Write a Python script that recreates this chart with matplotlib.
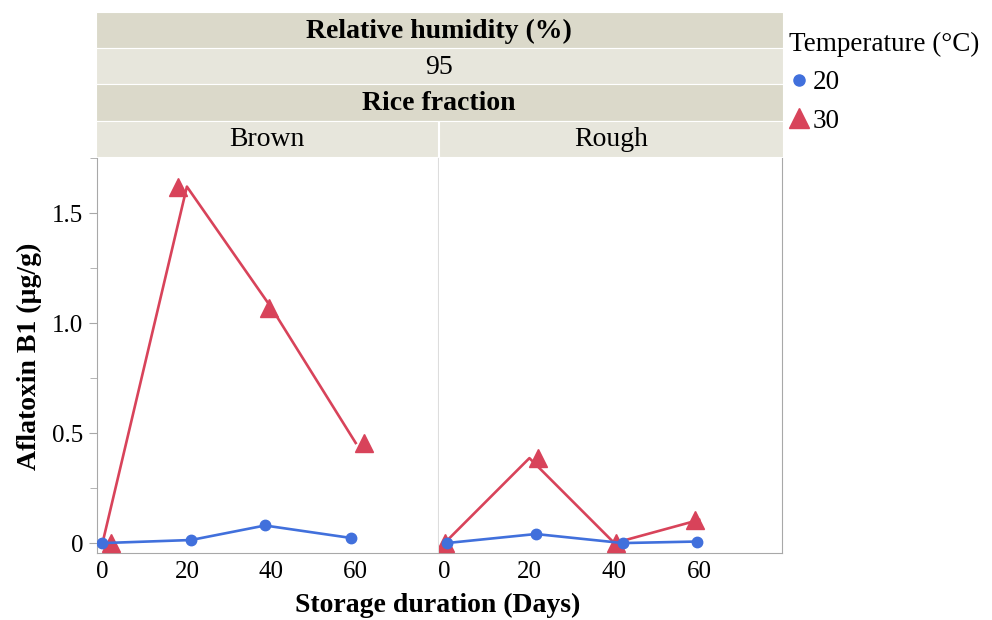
import numpy as np
import matplotlib.pyplot as plt
from matplotlib.patches import Rectangle
from matplotlib.lines import Line2D

plt.rcParams['font.family'] = ['Liberation Serif', 'DejaVu Serif']

# nominal storage days (line vertices) and tick labels
days = [0, 20, 40, 60]
fractions = ['Brown', 'Rough']
temps = ['20', '30']
yticks = [0, 0.5, 1.0, 1.5]
ytick_labels = ['0', '0.5', '1.0', '1.5']

# marker positions (JMP jitters the points a little)
brown_20_x = [0, 21, 38.5, 59]
brown_20_y = [0.0, 0.014, 0.08, 0.023]
brown_30_x = [2, 18, 39.5, 62]
brown_30_y = [0.0, 1.62, 1.07, 0.455]
rough_20_x = [0.5, 21.5, 42, 59.5]
rough_20_y = [0.0, 0.041, 0.0, 0.007]
rough_30_x = [0, 22, 40.5, 59]
rough_30_y = [0.0, 0.385, 0.0, 0.105]

blue = '#4170dc'
red = '#d8435a'
grey = '#a8a8a8'
strip_dark = '#dbd9ca'
strip_light = '#e7e6dc'

W, H = 992, 620
fig = plt.figure(figsize=(W/100, H/100), dpi=100)

top, bot = 158, 553
ax1 = fig.add_axes([97/W, 1-bot/H, (438-97)/W, (bot-top)/H])
ax2 = fig.add_axes([439/W, 1-bot/H, (782-439)/W, (bot-top)/H])

panels = [(ax1, brown_20_x, brown_20_y, brown_30_x, brown_30_y),
          (ax2, rough_20_x, rough_20_y, rough_30_x, rough_30_y)]

for ax, bx, by, rx, ry in panels:
    # 30 C: line through the nominal days, markers jittered
    ax.plot(days, ry, color=red, lw=1.9, zorder=2)
    ax.plot(rx, ry, ls='none', marker='^', ms=13, color=red, zorder=3)
    # 20 C drawn on top
    ax.plot(bx, by, color=blue, lw=1.9, marker='o', ms=7.5, zorder=4)
    ax.set_xlim(-1.3, 79.5)
    ax.set_ylim(-0.045, 1.745)
    ax.set_xticks(days)
    ax.set_xticklabels([str(d) for d in days])
    ax.tick_params(axis='x', length=0, pad=6, labelsize=18)
    for s in ax.spines.values():
        s.set_color(grey)
    ax.spines['top'].set_visible(False)

ax1.set_yticks(yticks)
ax1.set_yticklabels(ytick_labels)
ax1.set_yticks([0.25, 0.75, 1.25, 1.75], minor=True)
ax1.tick_params(axis='y', which='both', color=grey, labelsize=18, pad=4)
ax1.tick_params(axis='y', which='major', length=6)
ax1.tick_params(axis='y', which='minor', length=5)
ax1.spines['right'].set_color('#dddddd')
ax2.set_yticks([])
ax2.spines['left'].set_visible(False)

# header strips
hax = fig.add_axes([96/W, 1-157/H, (783-96)/W, (157-12)/H])
hax.set_xlim(96, 783)
hax.set_ylim(157, 12)
hax.axis('off')
rows = [(12, 48, strip_dark, 'Relative humidity (%)', 'bold'),
        (48, 84, strip_light, '95', 'normal'),
        (84, 121, strip_dark, 'Rice fraction', 'bold')]
for y0, y1, c, txt, wt in rows:
    hax.add_patch(Rectangle((96, y0), 687, y1-y0, facecolor=c, edgecolor='white', lw=0.8))
    hax.text(439, (y0+y1)/2 + 1, txt, ha='center', va='center', fontsize=20, fontweight=wt)
hax.add_patch(Rectangle((96, 121), 342, 36, facecolor=strip_light, edgecolor='white', lw=0.8))
hax.add_patch(Rectangle((439, 121), 344, 36, facecolor=strip_light, edgecolor='white', lw=0.8))
hax.text(267, 140, fractions[0], ha='center', va='center', fontsize=20)
hax.text(611, 140, fractions[1], ha='center', va='center', fontsize=20)

fig.text(29/W, 1-356/H, 'Aflatoxin B1 (µg/g)', rotation=90, ha='center', va='center',
         fontsize=20, fontweight='bold')
fig.text(438/W, 1-605/H, 'Storage duration (Days)', ha='center', va='center',
         fontsize=20, fontweight='bold')

handles = [Line2D([], [], ls='none', marker='o', ms=8, color=blue),
           Line2D([], [], ls='none', marker='^', ms=15, color=red)]
leg = fig.legend(handles, temps, title='Temperature (°C)', loc='upper left',
                 bbox_to_anchor=(784/W, 1-26/H), frameon=False, fontsize=19.5,
                 title_fontsize=19.5, alignment='left', handlelength=0.7,
                 handletextpad=0.15, labelspacing=0.5, borderpad=0.0,
                 borderaxespad=0.2)

fig.savefig('out.png', dpi=100)
